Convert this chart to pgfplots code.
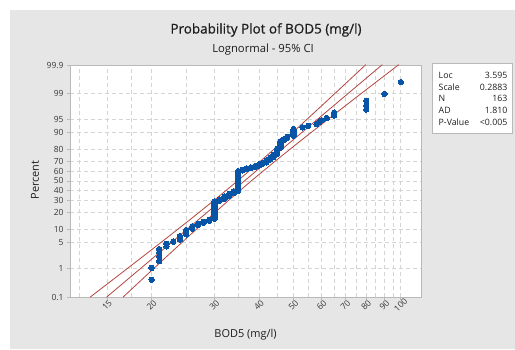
\documentclass[border=0pt]{standalone}
\usepackage{fontspec}
\setmainfont{Open Sans}
\setsansfont{Open Sans}
\newfontfamily\titlefont[FakeBold=0.7]{Open Sans}
\usepackage{pgfplots}
\pgfplotsset{compat=1.18}
\usepackage{pgfplotstable}
\definecolor{bgc}{RGB}{230,230,230}
\definecolor{framec}{RGB}{185,185,185}
\definecolor{gridc}{RGB}{212,212,212}
\definecolor{ptblue}{RGB}{8,84,166}
\definecolor{linec}{RGB}{180,70,64}
\definecolor{txtc}{RGB}{30,30,30}
\definecolor{labc}{RGB}{55,55,55}

% BOD5 value and plotting position (percent)
\pgfplotstableread{
x p
20 0.428
20 1.040
21 1.652
21 2.264
21 2.876
21 3.488
22 4.100
22 4.712
23 5.324
24 5.936
24 6.548
24 7.160
25 7.772
25 8.384
25 8.996
25 9.608
26 10.220
26 10.832
26 11.444
27 12.056
27 12.668
28 13.280
28 13.892
29 14.504
29 15.116
30 15.728
30 16.340
30 16.952
30 17.564
30 18.176
30 18.788
30 19.400
30 20.012
30 20.624
30 21.236
30 21.848
30 22.460
30 23.072
30 23.684
30 24.296
30 24.908
30 25.520
30 26.132
30 26.744
30 27.356
30 27.968
30 28.580
30 29.192
31 29.804
31 30.416
31 31.028
32 31.640
32 32.252
32 32.864
32 33.476
32 34.088
33 34.700
33 35.312
33 35.924
33 36.536
34 37.148
34 37.760
34 38.372
34 38.984
35 39.596
35 40.208
35 40.820
35 41.432
35 42.044
35 42.656
35 43.268
35 43.880
35 44.492
35 45.104
35 45.716
35 46.328
35 46.940
35 47.552
35 48.164
35 48.776
35 49.388
35 50.000
35 50.612
35 51.224
35 51.836
35 52.448
35 53.060
35 53.672
35 54.284
35 54.896
35 55.508
35 56.120
35 56.732
35 57.344
35 57.956
35 58.568
35 59.180
35 59.792
35 60.404
36 61.016
36 61.628
37 62.240
37 62.852
38 63.464
38 64.076
39 64.688
39 65.300
40 65.912
40 66.524
40 67.136
41 67.748
41 68.360
42 68.972
42 69.584
42 70.196
42 70.808
43 71.420
43 72.032
43 72.644
43 73.256
44 73.868
44 74.480
44 75.092
44 75.704
45 76.316
45 76.928
45 77.540
45 78.152
45 78.764
45 79.376
45 79.988
45 80.600
46 81.212
46 81.824
46 82.436
46 83.048
46 83.660
46 84.272
46 84.884
46 85.496
47 86.108
47 86.720
48 87.332
48 87.944
50 88.556
50 89.168
50 89.780
50 90.392
50 91.004
50 91.616
53 92.228
55 92.840
58 93.452
59 94.064
60 94.676
62 95.288
65 95.900
65 96.512
80 97.124
80 97.736
80 98.348
90 98.960
100 99.572
}\bodtable

\pgfplotstableread{
x p
13.433 0.1
16.189 0.621
18.949 2.275
22.154 6.681
25.855 15.866
30.081 30.854
34.839 50
40.133 69.146
46.021 84.134
52.611 93.319
60.036 97.725
68.434 99.379
79.802 99.9
}\cilow

\pgfplotstableread{
x p
16.617 0.1
19.378 0.621
22.089 2.275
25.206 6.681
28.815 15.866
33.042 30.854
38.064 50
44.084 69.146
51.291 84.134
59.858 93.319
69.984 97.725
81.912 99.379
98.718 99.9
}\cihigh

\pgfplotstableread{
x p
14.940 0.1
88.758 99.9
}\fitline

\begin{document}
\begin{tikzpicture}[x=1bp,y=1bp]
\useasboundingbox (0,0) rectangle (515,349);
\fill[white] (0,0) rectangle (515,349);
\fill[bgc] (10,0) rectangle (515,339);

\node[anchor=base, text=txtc, font=\titlefont\fontsize{13.5}{16}\selectfont] at (266,315.5) {Probability Plot of BOD5 (mg/l)};
\node[anchor=base, text=txtc, font=\fontsize{11.3}{13}\selectfont] at (263,297) {Lognormal - 95\% CI};
\node[rotate=90, anchor=center, text=txtc, font=\fontsize{11}{13}\selectfont] at (35,169) {Percent};

\begin{axis}[
  at={(70bp,52bp)}, anchor=south west,
  width=351bp, height=232bp, scale only axis,
  axis background/.style={fill=white},
  xmode=log, xmin=11.8, xmax=114,
  y coord trafo/.code={%
    \pgfmathparse{#1/100}\let\pcP\pgfmathresult
    \pgfmathparse{\pcP<0.5 ? \pcP : 1-\pcP}\let\pcQ\pgfmathresult
    \pgfmathparse{sqrt(-2*ln(\pcQ))}\let\pcT\pgfmathresult
    \pgfmathparse{(\pcT-(2.515517+0.802853*\pcT+0.010328*\pcT*\pcT)/(1+1.432788*\pcT+0.189269*\pcT*\pcT+0.001308*\pcT*\pcT*\pcT))*(\pcP<0.5 ? -1 : 1)}%
  },
  ymin=0.1, ymax=99.9,
  ytick={0.1,1,5,10,20,30,40,50,60,70,80,90,95,99,99.9},
  yticklabels={0.1,1,5,10,20,30,40,50,60,70,80,90,95,99,99.9},
  xtick={15,20,30,40,50,60,70,80,90,100},
  xticklabels={15,20,30,40,50,60,70,80,90,100},
  minor xtick={12.5,17.5,25,35,45,55,65,75,85,95},
  grid=both,
  major grid style={gridc, dash pattern=on 4bp off 3bp, line width=0.6bp},
  minor grid style={gridc, dash pattern=on 4bp off 3bp, line width=0.6bp},
  minor tick length=0pt,
  major tick length=3bp,
  tick align=outside,
  tick pos=left,
  axis line style={framec, line width=0.8bp},
  tick style={framec, line width=0.6bp},
  /pgf/number format/assume math mode=true,
  yticklabel style={font=\fontsize{8.5}{10}\selectfont, text=labc},
  xticklabel style={font=\fontsize{8.5}{10}\selectfont, text=labc, anchor=center, rotate=45},
  xticklabel shift=5bp,
  xlabel={BOD5 (mg/l)},
  label style={font=\fontsize{11}{13}\selectfont, text=txtc},
  xlabel style={at={(axis description cs:0.5,0)}, anchor=center, yshift=-38bp},
  clip=true,
]
\addplot[no marks, linec, line width=0.8bp] table[x=x,y=p] {\cilow};
\addplot[no marks, linec, line width=0.8bp] table[x=x,y=p] {\cihigh};
\addplot[no marks, linec, line width=0.8bp] table[x=x,y=p] {\fitline};
\addplot[only marks, mark=*, mark size=2.7bp, mark options={draw=ptblue, fill=ptblue, line width=0pt}] table[x=x,y=p] {\bodtable};
\end{axis}

\draw[framec, line width=0.8bp, fill=white] (432.7,215.7) rectangle (512.3,285.7);
\begin{scope}[every node/.style={font=\fontsize{8.8}{10}\selectfont, text=txtc, inner sep=0pt}]
\node[anchor=base west] at (438.5,270.7) {Loc};
\node[anchor=base east] at (507.5,270.7) {3.595};
\node[anchor=base west] at (438.5,259.0) {Scale};
\node[anchor=base east] at (507.5,259.0) {0.2883};
\node[anchor=base west] at (438.5,247.4) {N};
\node[anchor=base east] at (507.5,247.4) {163};
\node[anchor=base west] at (438.5,235.7) {AD};
\node[anchor=base east] at (507.5,235.7) {1.810};
\node[anchor=base west] at (438.5,224.0) {P-Value};
\node[anchor=base east] at (507.5,224.0) {<0.005};
\end{scope}
\end{tikzpicture}
\end{document}
